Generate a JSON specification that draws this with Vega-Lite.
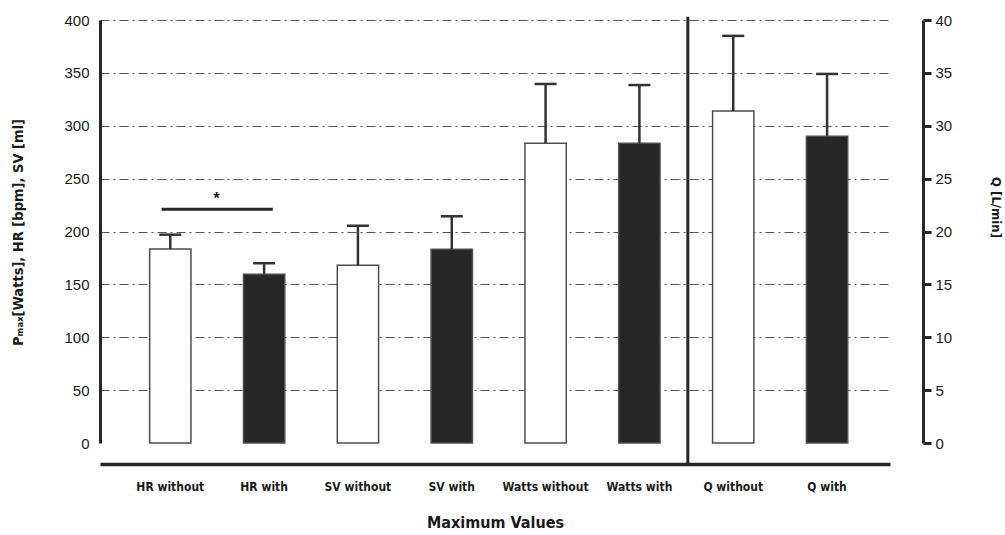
{
  "$schema": "https://vega.github.io/schema/vega-lite/v6.json",
  "width": 790,
  "height": 423,
  "autosize": {"type": "none"},
  "padding": {"left": 100, "top": 20, "right": 115, "bottom": 92},
  "background": "white",
  "config": {
    "view": {"stroke": null},
    "font": "'DejaVu Sans Condensed', 'DejaVu Sans', sans-serif"
  },
  "datasets": {
    "bars": [
      {"cat": "HR  without", "cond": "without", "side": "left", "value": 183.5, "upper": 197},
      {"cat": "HR with", "cond": "with", "side": "left", "value": 159.5, "upper": 170},
      {"cat": "SV without", "cond": "without", "side": "left", "value": 168, "upper": 205.5},
      {"cat": "SV with", "cond": "with", "side": "left", "value": 183.2, "upper": 214.4},
      {"cat": "Watts without", "cond": "without", "side": "left", "value": 283.5, "upper": 339.5},
      {"cat": "Watts with", "cond": "with", "side": "left", "value": 283.5, "upper": 338.5},
      {"cat": "Q without", "cond": "without", "side": "right", "value": 31.4, "upper": 38.5},
      {"cat": "Q with", "cond": "with", "side": "right", "value": 29.0, "upper": 34.9}
    ],
    "sig": [
      {"from": "HR  without", "to": "HR with", "level": 221, "starLevel": 231, "label": "*"}
    ]
  },
  "encoding": {
    "x": {
      "field": "cat",
      "type": "nominal",
      "sort": null,
      "scale": {
        "domain": ["HR  without", "HR with", "SV without", "SV with", "Watts without", "Watts with", "Q without", "Q with"],
        "paddingInner": 0.56,
        "paddingOuter": 0.49,
        "align": 0.54
      },
      "axis": {
        "title": "Maximum Values",
        "labelAngle": 0,
        "offset": 21,
        "domainWidth": 3.5,
        "domainColor": "#262626",
        "ticks": false,
        "labelPadding": 17,
        "labelFont": "'DejaVu Sans Condensed', 'DejaVu Sans', sans-serif",
        "labelFontWeight": "bold",
        "labelFontSize": 12,
        "labelColor": "#1a1a1a",
        "titleFont": "'DejaVu Sans Condensed', 'DejaVu Sans', sans-serif",
        "titleFontWeight": "bold",
        "titleFontSize": 16,
        "titleColor": "#1a1a1a",
        "titlePadding": 22
      }
    }
  },
  "layer": [
    {
      "layer": [
        {
          "data": {"name": "bars"},
          "transform": [{"filter": "datum.side === 'left'"}],
          "mark": {"type": "bar", "stroke": "#4d4d4d", "strokeWidth": 1.5},
          "encoding": {
            "y": {
              "field": "value",
              "type": "quantitative",
              "scale": {"domain": [0, 400], "nice": false, "zero": true},
              "axis": {
                "orient": "left",
                "title": "Pₘₐₓ[Watts], HR [bpm], SV [ml]",
                "values": [0, 50, 100, 150, 200, 250, 300, 350, 400],
                "domainWidth": 3,
                "domainColor": "#262626",
                "ticks": false,
                "labelPadding": 11,
                "labelFont": "Liberation Sans",
                "labelFontSize": 15,
                "labelColor": "#1a1a1a",
                "grid": true,
                "gridColor": "#555555",
                "gridWidth": 1.2,
                "gridDash": [9, 4, 2, 4],
                "gridOpacity": {"condition": {"test": "datum.value === 0", "value": 0}, "value": 1},
                "titleFont": "'DejaVu Sans Condensed', 'DejaVu Sans', sans-serif",
                "titleFontWeight": "bold",
                "titleFontSize": 14.5,
                "titleColor": "#1a1a1a",
                "titleAngle": -90,
                "titleX": -82,
                "titleY": 212,
                "titleAlign": "center",
                "titleBaseline": "middle"
              }
            },
            "fill": {
              "field": "cond",
              "type": "nominal",
              "scale": {"domain": ["without", "with"], "range": ["#ffffff", "#262626"]},
              "legend": null
            }
          }
        },
        {
          "data": {"name": "bars"},
          "transform": [{"filter": "datum.side === 'left'"}],
          "mark": {"type": "rule", "stroke": "#333333", "strokeWidth": 2.5},
          "encoding": {
            "y": {"field": "value", "type": "quantitative"},
            "y2": {"field": "upper"}
          }
        },
        {
          "data": {"name": "bars"},
          "transform": [{"filter": "datum.side === 'left'"}],
          "mark": {"type": "tick", "color": "#333333", "size": 22, "thickness": 2.5, "opacity": 1},
          "encoding": {
            "y": {"field": "upper", "type": "quantitative"}
          }
        },
        {
          "data": {"name": "sig"},
          "mark": {"type": "rule", "stroke": "#262626", "strokeWidth": 3},
          "encoding": {
            "x": {"field": "from", "type": "nominal", "bandPosition": 0.29},
            "x2": {"field": "to", "bandPosition": 0.71},
            "y": {"field": "level", "type": "quantitative"}
          }
        },
        {
          "data": {"name": "sig"},
          "mark": {"type": "text", "fontWeight": "bold", "fontSize": 16, "font": "Liberation Sans", "color": "#1a1a1a", "baseline": "middle", "align": "center"},
          "encoding": {
            "x": {"field": "to", "type": "nominal", "bandPosition": -0.65},
            "y": {"field": "starLevel", "type": "quantitative"},
            "text": {"field": "label"}
          }
        },
        {
          "data": {"name": "bars"},
          "transform": [{"filter": "datum.cat === 'Q without'"}],
          "mark": {"type": "rule", "stroke": "#262626", "strokeWidth": 3},
          "encoding": {
            "x": {"field": "cat", "type": "nominal", "bandPosition": -0.6},
            "y": {"datum": 403},
            "y2": {"datum": -20}
          }
        }
      ]
    },
    {
      "layer": [
        {
          "data": {"name": "bars"},
          "transform": [{"filter": "datum.side === 'right'"}],
          "mark": {"type": "bar", "stroke": "#4d4d4d", "strokeWidth": 1.5},
          "encoding": {
            "y": {
              "field": "value",
              "type": "quantitative",
              "scale": {"domain": [0, 40], "nice": false, "zero": true},
              "axis": {
                "orient": "right",
                "title": "Q [L/min]",
                "values": [0, 5, 10, 15, 20, 25, 30, 35, 40],
                "offset": 33,
                "domainWidth": 3,
                "domainColor": "#262626",
                "ticks": true,
                "tickSize": 8,
                "tickWidth": 3,
                "tickColor": "#262626",
                "labelPadding": 4,
                "labelFont": "Liberation Sans",
                "labelFontSize": 15,
                "labelColor": "#1a1a1a",
                "grid": false,
                "titleFont": "'DejaVu Sans Condensed', 'DejaVu Sans', sans-serif",
                "titleFontWeight": "bold",
                "titleFontSize": 13,
                "titleColor": "#1a1a1a",
                "titleAngle": 90,
                "titleX": 72,
                "titleY": 187,
                "titleAlign": "center",
                "titleBaseline": "middle"
              }
            },
            "fill": {
              "field": "cond",
              "type": "nominal",
              "scale": {"domain": ["without", "with"], "range": ["#ffffff", "#262626"]},
              "legend": null
            }
          }
        },
        {
          "data": {"name": "bars"},
          "transform": [{"filter": "datum.side === 'right'"}],
          "mark": {"type": "rule", "stroke": "#333333", "strokeWidth": 2.5},
          "encoding": {
            "y": {"field": "value", "type": "quantitative"},
            "y2": {"field": "upper"}
          }
        },
        {
          "data": {"name": "bars"},
          "transform": [{"filter": "datum.side === 'right'"}],
          "mark": {"type": "tick", "color": "#333333", "size": 22, "thickness": 2.5, "opacity": 1},
          "encoding": {
            "y": {"field": "upper", "type": "quantitative"}
          }
        }
      ]
    }
  ],
  "resolve": {"scale": {"y": "independent"}, "axis": {"y": "independent"}}
}
